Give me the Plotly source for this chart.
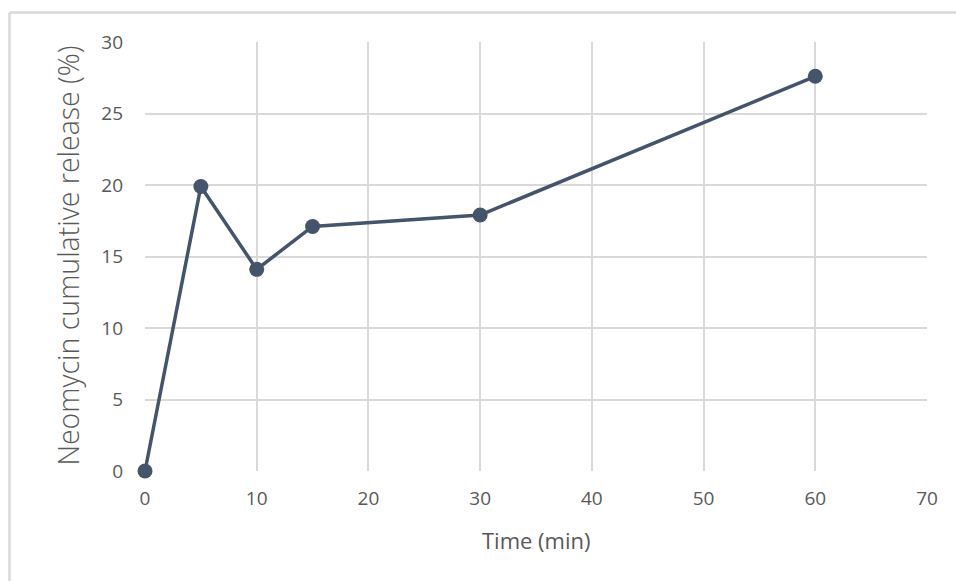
import plotly.graph_objects as go

# Cumulative neomycin release over time
time_min = [0, 5, 10, 15, 30, 60]
release_pct = [0, 19.9, 14.1, 17.1, 17.9, 27.6]

x_ticks = [0, 10, 20, 30, 40, 50, 60, 70]
y_ticks = [0, 5, 10, 15, 20, 25, 30]

x_title = "Time (min)"
y_title = "Neomycin cumulative release (%)"

LINE_COLOR = "#44546A"
GRID_COLOR = "#D9D9D9"
TEXT_COLOR = "#595959"
FONT = "Open Sans"

fig = go.Figure()
fig.add_trace(go.Scatter(
    x=time_min,
    y=release_pct,
    mode="lines+markers",
    line=dict(color=LINE_COLOR, width=3.5),
    marker=dict(color=LINE_COLOR, size=15),
    showlegend=False,
    cliponaxis=False,
))

fig.update_layout(
    width=956,
    height=581,
    margin=dict(l=145, r=29, t=42, b=110),
    paper_bgcolor="white",
    plot_bgcolor="white",
    font=dict(family=FONT, color=TEXT_COLOR),
    xaxis=dict(
        range=[0, 70],
        tickvals=x_ticks,
        showgrid=True,
        gridcolor=GRID_COLOR,
        gridwidth=1.5,
        zeroline=False,
        showline=False,
        ticks="",
        ticklabelstandoff=14,
        tickfont=dict(size=19, color=TEXT_COLOR),
        fixedrange=True,
    ),
    yaxis=dict(
        range=[0, 30],
        tickvals=y_ticks,
        showgrid=True,
        gridcolor=GRID_COLOR,
        gridwidth=1.5,
        zeroline=False,
        showline=False,
        ticks="",
        ticklabelstandoff=21,
        tickfont=dict(size=19, color=TEXT_COLOR),
        fixedrange=True,
    ),
    annotations=[
        dict(text=x_title, xref="paper", yref="paper", x=0.5, y=-0.161,
             xanchor="center", yanchor="middle", showarrow=False,
             font=dict(size=22, color=TEXT_COLOR)),
        dict(text=y_title, xref="paper", yref="paper", x=-0.0985, y=0.502,
             xanchor="center", yanchor="middle", textangle=-90, showarrow=False,
             font=dict(size=28.5, color=TEXT_COLOR, weight=300)),
    ],
    shapes=[
        # outer chart-area frame (top and left edges)
        dict(type="line", xref="paper", yref="paper",
             x0=-0.1733, x1=1.1, y0=1.0688, y1=1.0688,
             line=dict(color=GRID_COLOR, width=2.5)),
        dict(type="line", xref="paper", yref="paper",
             x0=-0.1733, x1=-0.1733, y0=1.0688, y1=-0.3,
             line=dict(color=GRID_COLOR, width=2.5)),
    ],
)

fig.write_html("out.html")
